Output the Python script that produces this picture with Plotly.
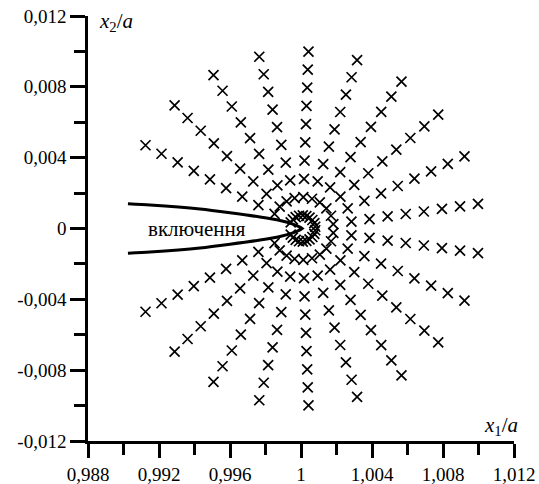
import plotly.graph_objects as go

# ---- data -----------------------------------------------------------------
# Upper-half rays (angles ~8°,24°,...,152° about the inclusion tip), inner -> outer
ray_x_upper = [
    [1.00080, 1.00182, 1.00284, 1.00386, 1.00488, 1.00590, 1.00692, 1.00794, 1.00896, 1.00997],
    [1.00075, 1.00169, 1.00263, 1.00357, 1.00451, 1.00545, 1.00639, 1.00733, 1.00827, 1.00921],
    [1.00064, 1.00143, 1.00222, 1.00300, 1.00379, 1.00458, 1.00537, 1.00616, 1.00695, 1.00773],
    [1.00048, 1.00106, 1.00164, 1.00221, 1.00279, 1.00336, 1.00394, 1.00452, 1.00509, 1.00566],
    [1.00030, 1.00062, 1.00094, 1.00125, 1.00157, 1.00189, 1.00221, 1.00253, 1.00285, 1.00316],
    [1.00010, 1.00013, 1.00017, 1.00020, 1.00024, 1.00028, 1.00031, 1.00035, 1.00038, 1.00042],
    [0.99989, 0.99964, 0.99939, 0.99914, 0.99889, 0.99865, 0.99840, 0.99815, 0.99790, 0.99765],
    [0.99970, 0.99919, 0.99867, 0.99816, 0.99764, 0.99713, 0.99661, 0.99610, 0.99558, 0.99507],
    [0.99954, 0.99880, 0.99806, 0.99731, 0.99657, 0.99583, 0.99509, 0.99435, 0.99361, 0.99288],
    [0.99942, 0.99851, 0.99760, 0.99669, 0.99578, 0.99487, 0.99396, 0.99305, 0.99214, 0.99124],
]
ray_y_upper = [
    [0.00010, 0.00025, 0.00039, 0.00053, 0.00068, 0.00082, 0.00096, 0.00111, 0.00125, 0.00139],
    [0.00030, 0.00072, 0.00114, 0.00156, 0.00198, 0.00240, 0.00282, 0.00323, 0.00365, 0.00407],
    [0.00048, 0.00114, 0.00180, 0.00246, 0.00312, 0.00379, 0.00445, 0.00511, 0.00577, 0.00643],
    [0.00061, 0.00147, 0.00232, 0.00318, 0.00403, 0.00488, 0.00574, 0.00659, 0.00745, 0.00829],
    [0.00070, 0.00168, 0.00266, 0.00364, 0.00462, 0.00560, 0.00658, 0.00756, 0.00854, 0.00951],
    [0.00074, 0.00177, 0.00280, 0.00383, 0.00486, 0.00589, 0.00692, 0.00795, 0.00897, 0.00999],
    [0.00072, 0.00172, 0.00272, 0.00372, 0.00472, 0.00572, 0.00671, 0.00771, 0.00871, 0.00970],
    [0.00064, 0.00153, 0.00243, 0.00332, 0.00421, 0.00510, 0.00599, 0.00689, 0.00778, 0.00866],
    [0.00051, 0.00123, 0.00195, 0.00266, 0.00338, 0.00409, 0.00481, 0.00552, 0.00624, 0.00695],
    [0.00035, 0.00083, 0.00132, 0.00180, 0.00228, 0.00277, 0.00325, 0.00373, 0.00422, 0.00470],
]
# Lower-half rays (mirror image of the upper half)
ray_x_lower = [
    [1.00080, 1.00182, 1.00284, 1.00386, 1.00488, 1.00590, 1.00692, 1.00794, 1.00896, 1.00997],
    [1.00075, 1.00169, 1.00263, 1.00357, 1.00451, 1.00545, 1.00639, 1.00733, 1.00827, 1.00921],
    [1.00064, 1.00143, 1.00222, 1.00300, 1.00379, 1.00458, 1.00537, 1.00616, 1.00695, 1.00773],
    [1.00048, 1.00106, 1.00164, 1.00221, 1.00279, 1.00336, 1.00394, 1.00452, 1.00509, 1.00566],
    [1.00030, 1.00062, 1.00094, 1.00125, 1.00157, 1.00189, 1.00221, 1.00253, 1.00285, 1.00316],
    [1.00010, 1.00013, 1.00017, 1.00020, 1.00024, 1.00028, 1.00031, 1.00035, 1.00038, 1.00042],
    [0.99989, 0.99964, 0.99939, 0.99914, 0.99889, 0.99865, 0.99840, 0.99815, 0.99790, 0.99765],
    [0.99970, 0.99919, 0.99867, 0.99816, 0.99764, 0.99713, 0.99661, 0.99610, 0.99558, 0.99507],
    [0.99954, 0.99880, 0.99806, 0.99731, 0.99657, 0.99583, 0.99509, 0.99435, 0.99361, 0.99288],
    [0.99942, 0.99851, 0.99760, 0.99669, 0.99578, 0.99487, 0.99396, 0.99305, 0.99214, 0.99124],
]
ray_y_lower = [
    [-0.00010, -0.00025, -0.00039, -0.00053, -0.00068, -0.00082, -0.00096, -0.00111, -0.00125, -0.00139],
    [-0.00030, -0.00072, -0.00114, -0.00156, -0.00198, -0.00240, -0.00282, -0.00323, -0.00365, -0.00407],
    [-0.00048, -0.00114, -0.00180, -0.00246, -0.00312, -0.00379, -0.00445, -0.00511, -0.00577, -0.00643],
    [-0.00061, -0.00147, -0.00232, -0.00318, -0.00403, -0.00488, -0.00574, -0.00659, -0.00745, -0.00829],
    [-0.00070, -0.00168, -0.00266, -0.00364, -0.00462, -0.00560, -0.00658, -0.00756, -0.00854, -0.00951],
    [-0.00074, -0.00177, -0.00280, -0.00383, -0.00486, -0.00589, -0.00692, -0.00795, -0.00897, -0.00999],
    [-0.00072, -0.00172, -0.00272, -0.00372, -0.00472, -0.00572, -0.00671, -0.00771, -0.00871, -0.00970],
    [-0.00064, -0.00153, -0.00243, -0.00332, -0.00421, -0.00510, -0.00599, -0.00689, -0.00778, -0.00866],
    [-0.00051, -0.00123, -0.00195, -0.00266, -0.00338, -0.00409, -0.00481, -0.00552, -0.00624, -0.00695],
    [-0.00035, -0.00083, -0.00132, -0.00180, -0.00228, -0.00277, -0.00325, -0.00373, -0.00422, -0.00470],
]

# Inclusion (wedge) outline
incl_x = [0.99025, 0.99149, 0.99431, 0.99600, 0.99769, 0.99882, 0.99955, 0.99994, 1.00006]
incl_y_upper = [0.00140, 0.00133, 0.00110, 0.00089, 0.00065, 0.00045, 0.00025, 0.00008, 0.0]
incl_y_lower = [-0.00140, -0.00133, -0.00110, -0.00089, -0.00065, -0.00045, -0.00025, -0.00008, 0.0]

# Axis ticks
x_major = [0.988, 0.992, 0.996, 1.000, 1.004, 1.008, 1.012]
x_major_text = ["0,988", "0,992", "0,996", "1", "1,004", "1,008", "1,012"]
x_minor = [0.990, 0.994, 0.998, 1.002, 1.006, 1.010]
y_major = [-0.012, -0.008, -0.004, 0.0, 0.004, 0.008, 0.012]
y_major_text = ["-0,012", "-0,008", "-0,004", "0", "0,004", "0,008", "0,012"]
y_minor = [-0.010, -0.006, -0.002, 0.002, 0.006, 0.010]

# ---- figure ----------------------------------------------------------------
FONT = "Liberation Serif"
marker = dict(symbol="x-thin", size=10, color="black", line=dict(width=1.7, color="black"))

pts_x, pts_y = [], []
for xs, ys in zip(ray_x_upper + ray_x_lower, ray_y_upper + ray_y_lower):
    pts_x += xs
    pts_y += ys

fig = go.Figure()
fig.add_trace(go.Scatter(x=pts_x, y=pts_y, mode="markers", marker=marker,
                         showlegend=False, hoverinfo="skip"))
fig.add_trace(go.Scatter(
    x=incl_x + incl_x[::-1], y=incl_y_upper + incl_y_lower[::-1],
    mode="lines", line=dict(color="black", width=3, shape="spline", smoothing=0.6),
    showlegend=False, hoverinfo="skip"))

axis_common = dict(
    showline=True, linecolor="black", linewidth=2.5, mirror=False,
    ticks="outside", tickwidth=2.5, tickcolor="black",
    showgrid=False, zeroline=False, automargin=False, ticklabeloverflow="allow",
    tickfont=dict(family=FONT, size=19, color="black"),
)
fig.update_xaxes(range=[0.988, 1.012], tickmode="array", tickvals=x_major, ticktext=x_major_text,
                 ticklen=14,
                 minor=dict(tickvals=x_minor, ticks="outside", ticklen=11, tickwidth=2.5,
                            tickcolor="black", showgrid=False),
                 **axis_common)
fig.update_yaxes(range=[-0.012, 0.012], tickmode="array", tickvals=y_major, ticktext=y_major_text,
                 ticklen=15,
                 minor=dict(tickvals=y_minor, ticks="outside", ticklen=11, tickwidth=2.5,
                            tickcolor="black", showgrid=False),
                 **axis_common)

fig.add_annotation(x=0.99414, y=0.0, xref="x", yref="y", text="включення", showarrow=False,
                   font=dict(family=FONT, size=21, color="black"), xanchor="center", yanchor="middle")
fig.add_annotation(x=0.98851, y=0.01168, xref="x", yref="y",
                   text="<i>x</i><sub>2</sub>/<i>a</i>", showarrow=False,
                   font=dict(family=FONT, size=21, color="black"), xanchor="left", yanchor="middle")
fig.add_annotation(x=1.01018, y=-0.01115, xref="x", yref="y",
                   text="<i>x</i><sub>1</sub>/<i>a</i>", showarrow=False,
                   font=dict(family=FONT, size=21, color="black"), xanchor="left", yanchor="middle")

fig.update_layout(
    template="none",
    width=539, height=484,
    margin=dict(l=88, r=25, t=16, b=43),
    plot_bgcolor="white", paper_bgcolor="white",
)
# remove the browser's default 8 px body margin so the figure fills the window
fig.write_html("out.html", config={"displayModeBar": False},
               post_script="document.body.style.margin='0';")
